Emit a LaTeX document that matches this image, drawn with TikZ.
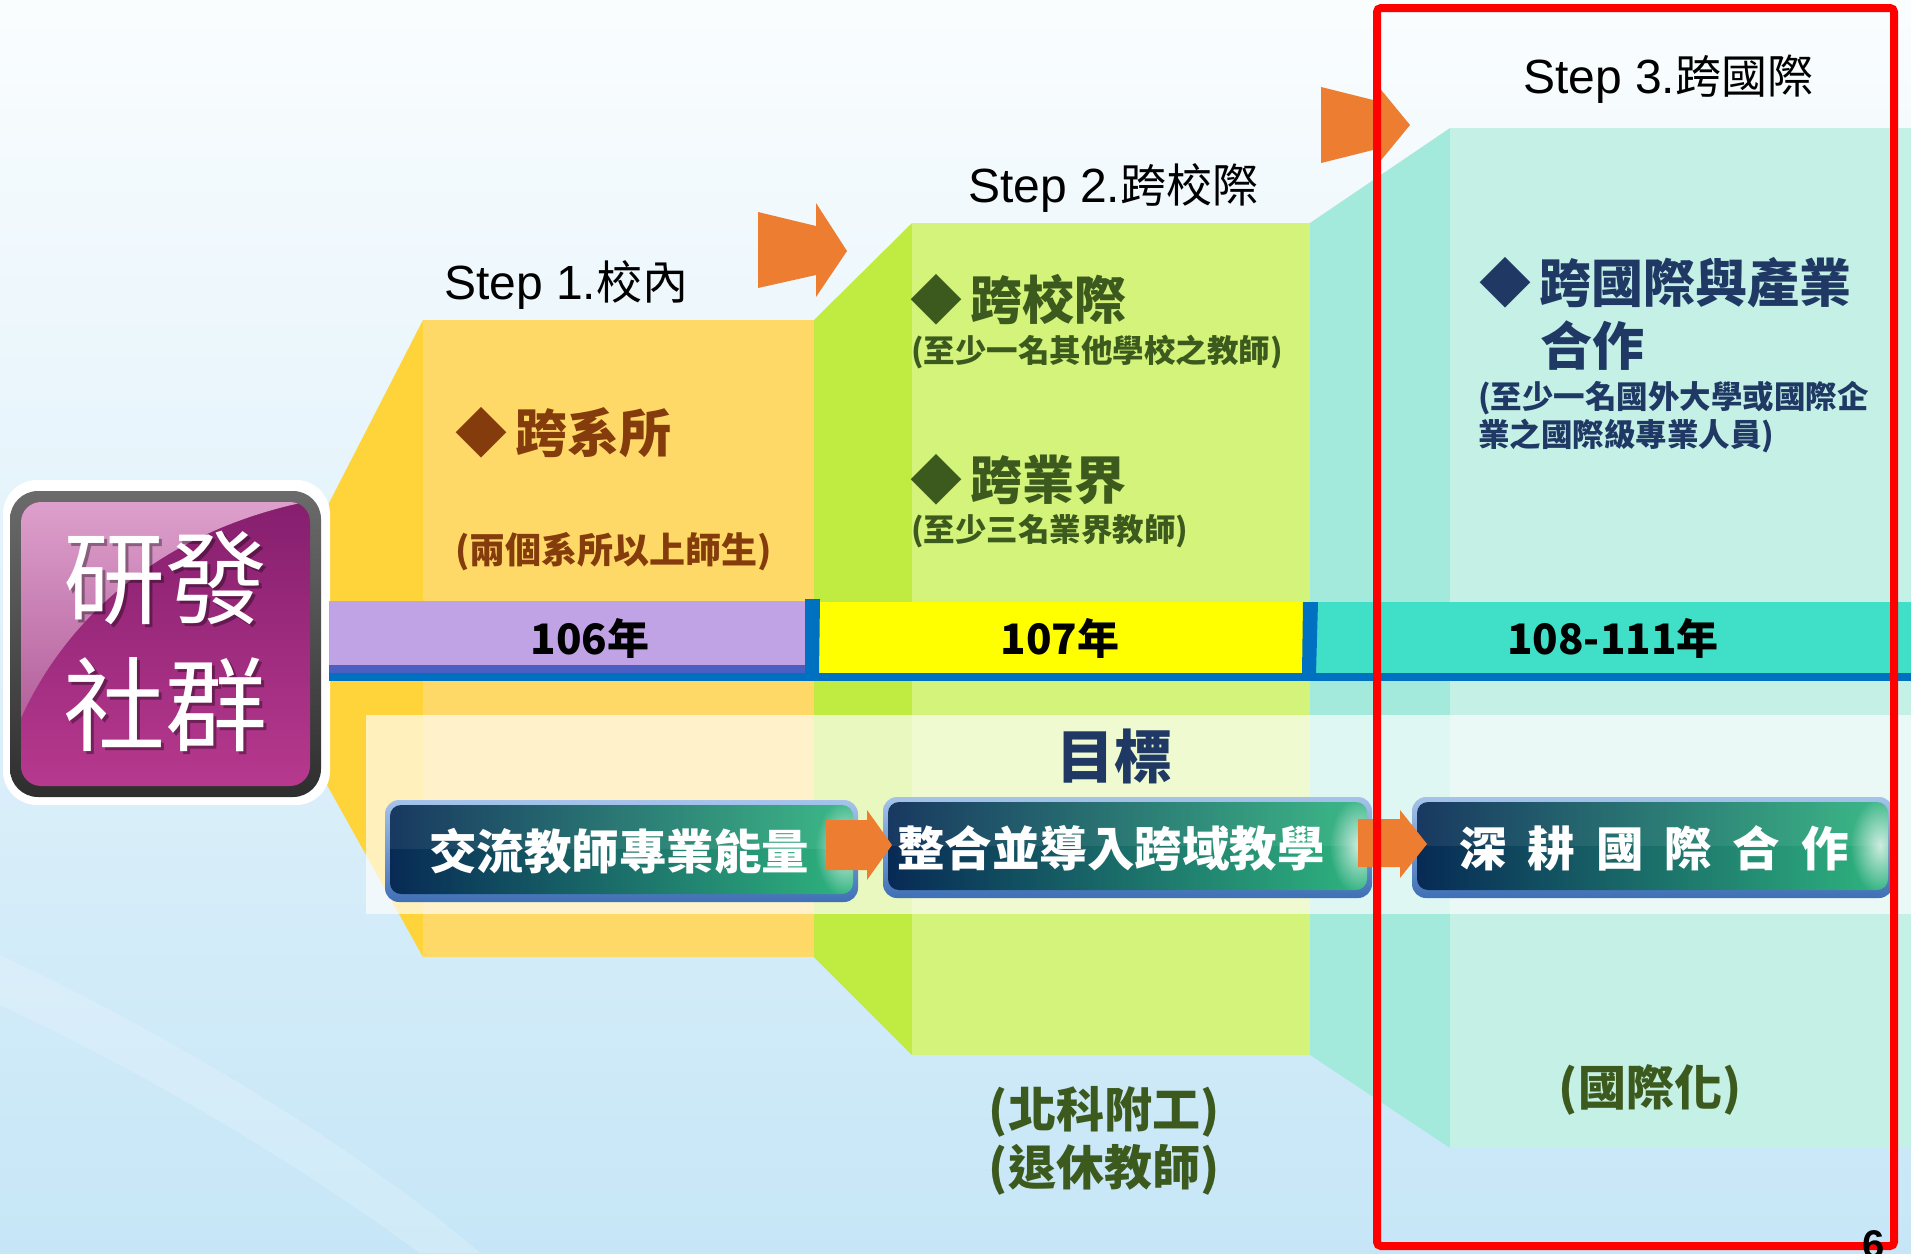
\documentclass[tikz,border=0pt]{standalone}
\usepackage{fontspec}
\setmainfont{Liberation Sans}
\newfontfamily\cjk{Noto Sans CJK TC}
\usetikzlibrary{fadings}
\newcommand\fsz[1]{\fontsize{#1}{#1}\selectfont}
\tikzfading[name=glowfade, inner color=transparent!0, outer color=transparent!100]
\definecolor{bgtop}{HTML}{FAFDFE}
\definecolor{bgmid}{HTML}{EBF6FB}
\definecolor{bgbot}{HTML}{C6E6F7}
\definecolor{ydark}{HTML}{FFD43B}
\definecolor{ylight}{HTML}{FFD967}
\definecolor{gdark}{HTML}{C0EC42}
\definecolor{glight}{HTML}{D4F37A}
\definecolor{tdark}{HTML}{A4EADC}
\definecolor{tlight}{HTML}{C4F0E5}
\definecolor{orng}{HTML}{ED7D31}
\definecolor{brn}{HTML}{843C0C}
\definecolor{grn}{HTML}{3D5A1E}
\definecolor{navy}{HTML}{1F3864}
\definecolor{purp}{HTML}{C0A3E4}
\definecolor{purpdk}{HTML}{4A5FC1}
\definecolor{barblue}{HTML}{0070C0}
\definecolor{baryellow}{rgb}{1,1,0}
\definecolor{barteal}{HTML}{40E0C8}
\definecolor{btnL}{HTML}{072A55}
\definecolor{btnM}{HTML}{0D4468}
\definecolor{btnR}{HTML}{2FB57F}
\definecolor{btnET}{HTML}{A6C4EA}
\definecolor{btnEB}{HTML}{3F6FB5}
\definecolor{magT}{HTML}{861E6E}
\definecolor{magB}{HTML}{B6398E}
\definecolor{glossT}{HTML}{DDA0CC}
\definecolor{glossB}{HTML}{B4609C}
\tikzset{
  steplbl/.style={anchor=base west, inner sep=0, font=\fsz{48}, text=black},
  itembig/.style={anchor=west, inner sep=0, font=\cjk\bfseries\fsz{52}},
  itemsmall/.style={anchor=west, inner sep=0, font=\cjk\bfseries\fsz{31.5}},
  yeartxt/.style={inner sep=0, font=\cjk\bfseries\fsz{42}, text=black},
  btnedge/.style={rounded corners=14, top color=btnET, bottom color=btnEB},
  btnbody/.style={rounded corners=11, left color=btnL, middle color=btnM, right color=btnR},
  btntext/.style={inner sep=0, text=white, font=\cjk\bfseries\fsz{47.5}},
  btnglow/.style={fill=white, opacity=0.75, path fading=glowfade},
  orarrow/.style={fill=orng},
  bottxt/.style={inner sep=0, text=grn, font=\cjk\bfseries\fsz{48}}
}
\begin{document}
\begin{tikzpicture}[x=1pt,y=-1pt]
\useasboundingbox (0,0) rectangle (1911,1253);
% background
\shade[top color=bgtop, middle color=bgmid, bottom color=bgbot] (0,0) rectangle (1911,1253);
\fill[white, opacity=0.18] (0,955) .. controls (180,1040) and (360,1150) .. (480,1253) -- (420,1253) .. controls (300,1165) and (150,1075) .. (0,1005) -- cycle;

% blocks
\fill[ydark] (327,507) -- (423,320) -- (423,957) -- (327,785) -- cycle;
\fill[ylight] (423,320) rectangle (814,957);
\fill[gdark] (814,320) -- (912,223) -- (912,1055) -- (814,957) -- cycle;
\fill[glight] (912,223) rectangle (1310,1055);
\fill[tdark] (1310,223) -- (1450,128) -- (1450,1148) -- (1310,1055) -- cycle;
\fill[tlight] (1450,128) rectangle (1911,1148);

% big orange arrows
\fill[orarrow] (758,212) -- (816,226) -- (816,203) -- (847,251) -- (816,297) -- (816,275) -- (758,288) -- cycle;
\fill[orarrow] (1321,87) -- (1373,100) -- (1373,80) -- (1410,125) -- (1373,170) -- (1373,150) -- (1321,163) -- cycle;

% step labels
\node[steplbl] (s1) at (444,299) {Step 1.{\cjk\fsz{46}校內}};
\node[steplbl] (s2) at (968,202) {Step 2.{\cjk\fsz{46}跨校際}};
\node[steplbl] (s3) at (1523,93) {Step 3.{\cjk\fsz{46}跨國際}};

% icon
\fill[white, rounded corners=34] (3,480) rectangle (330,805);
\shade[rounded corners=28, top color=black!58, middle color=black!10, bottom color=black!82] (10,491) rectangle (321,797);
\shade[rounded corners=20, top color=magT, bottom color=magB] (21,502) rectangle (310,786);
\begin{scope}
  \clip[rounded corners=20] (21,502) rectangle (310,786);
  \shade[top color=glossT, bottom color=glossB] (21,502) -- (305,502) .. controls (170,530) and (70,610) .. (21,718) -- cycle;
\end{scope}
\node[inner sep=0, text=black, opacity=0.35, font=\cjk\fsz{102}] (icon1s) at (168,581) {研發};
\node[inner sep=0, text=black, opacity=0.35, font=\cjk\fsz{102}] (icon2s) at (168,708) {社群};
\node[inner sep=0, text=white, font=\cjk\fsz{102}] (icon1) at (165,578) {研發};
\node[inner sep=0, text=white, font=\cjk\fsz{102}] (icon2) at (165,705) {社群};

% items
\node[itembig, text=brn] (i1) at (455,433) {◆\hspace{8pt}跨系所};
\node[itemsmall, text=brn, font=\cjk\bfseries\fsz{36}] (i1s) at (455,552) {(兩個系所以上師生)};
\node[itembig, text=grn] (i2) at (910,300) {◆\hspace{8pt}跨校際};
\node[itemsmall, text=grn] (i2s) at (911,352) {(至少一名其他學校之教師)};
\node[itembig, text=grn] (i3) at (910,480) {◆\hspace{8pt}跨業界};
\node[itemsmall, text=grn] (i3s) at (911,531) {(至少三名業界教師)};
\node[itembig, text=navy] (i4) at (1479,283) {◆\hspace{8pt}跨國際與產業};
\node[itembig, text=navy] (i4b) at (1540,346) {合作};
\node[itemsmall, text=navy] (i4s) at (1478,398) {(至少一名國外大學或國際企};
\node[itemsmall, text=navy] (i4t) at (1478,436) {業之國際級專業人員)};

% year bar
\fill[purp] (329,601) rectangle (806,666);
\fill[purpdk] (329,665) rectangle (806,674);
\fill[baryellow] (818,602) rectangle (1304,674);
\fill[barteal] (1316,602) rectangle (1911,674);
\fill[barblue] (329,673) rectangle (1911,681);
\fill[barblue] (805,599) -- (820,599) -- (819,674) -- (805,674) -- cycle;
\fill[barblue] (1303,602) -- (1318,602) -- (1316,674) -- (1302,674) -- cycle;
\node[yeartxt] (y1) at (590,638) {106年};
\node[yeartxt] (y2) at (1060,638) {107年};
\node[yeartxt] (y3) at (1613,638) {108-111年};

% goal band
\fill[white, opacity=0.66] (366,715) rectangle (1911,914);
\node[inner sep=0, text=navy, font=\cjk\bfseries\fsz{58}] (goal) at (1114,756) {目標};

% buttons
\path[btnedge] (385,800) rectangle (858,902);
\path[btnbody] (390,805) rectangle (853,894);
\begin{scope}
  \clip[rounded corners=11] (390,805) rectangle (853,894);
  \fill[white, opacity=0.07] (390,805) rectangle (853,849);
  \fill[btnglow] (845,849) ellipse [x radius=30, y radius=48];
\end{scope}
\path[btnedge] (883,797) rectangle (1372,898);
\path[btnbody] (888,802) rectangle (1367,890);
\begin{scope}
  \clip[rounded corners=11] (888,802) rectangle (1367,890);
  \fill[white, opacity=0.07] (888,802) rectangle (1367,846);
  \fill[btnglow] (1359,846) ellipse [x radius=30, y radius=48];
\end{scope}
\path[btnedge] (1412,797) rectangle (1893,898);
\path[btnbody] (1417,802) rectangle (1888,890);
\begin{scope}
  \clip[rounded corners=11] (1417,802) rectangle (1888,890);
  \fill[white, opacity=0.07] (1417,802) rectangle (1888,846);
  \fill[btnglow] (1880,846) ellipse [x radius=30, y radius=48];
\end{scope}
\node[btntext] (b1) at (619,851) {交流教師專業能量};
\node[btntext] (b2) at (1111,848) {整合並導入跨域教學};
\node[btntext] (b3) at (1654,848) {深\hspace{21pt}耕\hspace{21pt}國\hspace{21pt}際\hspace{21pt}合\hspace{21pt}作};

% small orange arrows
\fill[orarrow] (826,820) -- (867,820) -- (867,810) -- (892,845) -- (867,880) -- (867,870) -- (826,870) -- cycle;
\fill[orarrow] (1358,819) -- (1400,819) -- (1400,810) -- (1427,844) -- (1400,878) -- (1400,867) -- (1358,867) -- cycle;

% bottom notes
\node[bottxt] (n1) at (1104,1112) {(北科附工)};
\node[bottxt] (n2) at (1104,1170) {(退休教師)};
\node[bottxt] (n3) at (1650,1090) {(國際化)};

% red frame
\draw[red, line width=8, rounded corners=4] (1377,8) rectangle (1894,1246);
\node[anchor=north, inner sep=0, font=\bfseries\fsz{40}, text=black] (pg) at (1874,1230) {6};
\end{tikzpicture}
\end{document}
